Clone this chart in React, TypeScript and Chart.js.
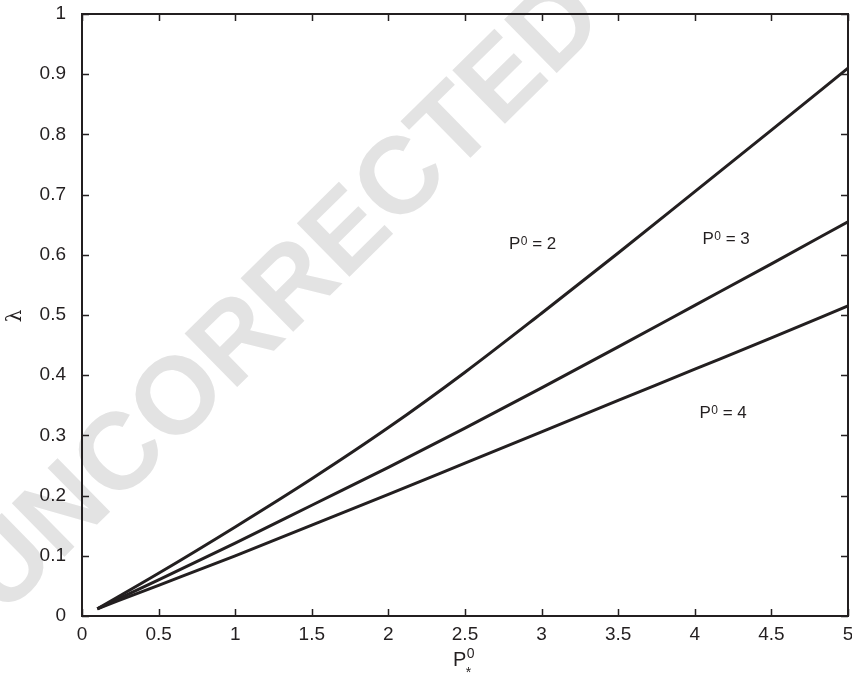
import React, { useEffect, useRef } from "react";
import { Chart, registerables } from "chart.js";

Chart.register(...registerables);

const xValues = [0.1, 0.5, 1, 1.5, 2, 2.5, 3, 3.5, 4, 4.5, 5];
const seriesP2 = [0.012, 0.071, 0.148, 0.228, 0.313, 0.405, 0.503, 0.603, 0.705, 0.807, 0.91];
const seriesP3 = [0.012, 0.06, 0.121, 0.184, 0.247, 0.312, 0.379, 0.447, 0.516, 0.585, 0.655];
const seriesP4 = [0.012, 0.051, 0.1, 0.151, 0.202, 0.254, 0.306, 0.358, 0.41, 0.462, 0.515];

const annotationLabels = ["2", "3", "4"];
const annotationX = [2.787, 4.05, 4.03];
const annotationY = [0.61, 0.618, 0.329];

const watermarkText = "UNCORRECTED";

const INK = "#231f20";
const FONT = "'Liberation Sans', Arial, Helvetica, sans-serif";

const fmt = (v: any) => String(Number(Number(v).toFixed(2)));

const framePlugin = {
  id: "frameAndTicks",
  beforeDraw(chart: any) {
    const ctx = chart.ctx;
    ctx.save();
    ctx.translate(278, 292);
    ctx.rotate((-44.5 * Math.PI) / 180);
    ctx.font = `bold 109px ${FONT}`;
    ctx.fillStyle = "#e3e3e3";
    ctx.textAlign = "center";
    ctx.textBaseline = "alphabetic";
    ctx.fillText(watermarkText, 0, 39);
    ctx.restore();
  },
  afterDatasetsDraw(chart: any) {
    const ctx = chart.ctx;
    const { left, right, top, bottom } = chart.chartArea;
    const xs = chart.scales.x;
    const ys = chart.scales.y;
    ctx.save();
    ctx.strokeStyle = INK;
    ctx.lineWidth = 1.5;
    const tl = 7;
    ctx.beginPath();
    xs.ticks.forEach((t: any) => {
      const px = Math.round(xs.getPixelForValue(t.value)) + 0.5;
      ctx.moveTo(px, bottom);
      ctx.lineTo(px, bottom - tl);
      ctx.moveTo(px, top);
      ctx.lineTo(px, top + tl);
    });
    ys.ticks.forEach((t: any) => {
      const py = Math.round(ys.getPixelForValue(t.value)) + 0.5;
      ctx.moveTo(left, py);
      ctx.lineTo(left + tl, py);
      ctx.moveTo(right, py);
      ctx.lineTo(right - tl, py);
    });
    ctx.stroke();
    ctx.lineWidth = 2;
    ctx.strokeRect(left, top, right - left, bottom - top);

    ctx.fillStyle = INK;
    ctx.textBaseline = "alphabetic";
    ctx.textAlign = "left";
    annotationLabels.forEach((lab, i) => {
      let px = xs.getPixelForValue(annotationX[i]);
      const py = ys.getPixelForValue(annotationY[i]);
      ctx.font = `17px ${FONT}`;
      ctx.fillText("P", px, py);
      px += ctx.measureText("P").width + 0.5;
      ctx.font = `12px ${FONT}`;
      ctx.fillText("0", px, py - 4);
      px += ctx.measureText("0").width;
      ctx.font = `17px ${FONT}`;
      ctx.fillText(" = " + lab, px, py);
    });

    let tx = 453;
    const ty = 666;
    ctx.font = `20px ${FONT}`;
    ctx.fillText("P", tx, ty);
    tx += ctx.measureText("P").width + 0.5;
    ctx.font = `14px ${FONT}`;
    ctx.fillText("0", tx, ty - 8);
    ctx.fillText("*", tx - 1, ty + 11);

    ctx.save();
    ctx.translate(16, 316);
    ctx.rotate(-Math.PI / 2);
    ctx.font = `20px 'DejaVu Serif', serif`;
    ctx.textAlign = "center";
    ctx.textBaseline = "middle";
    ctx.fillText("λ", 0, 0);
    ctx.restore();
    ctx.restore();
  },
};

export default function App() {
  const ref = useRef<HTMLCanvasElement | null>(null);
  useEffect(() => {
    if (!ref.current) return;
    const mk = (vals: number[]) => xValues.map((x, i) => ({ x, y: vals[i] }));
    const ds = (label: string, vals: number[]) => ({
      label,
      data: mk(vals),
      borderColor: INK,
      borderWidth: 3,
      pointRadius: 0,
      fill: false,
      cubicInterpolationMode: "monotone" as const,
    });
    const chart = new Chart(ref.current, {
      type: "line",
      data: {
        datasets: [ds("P0=2", seriesP2), ds("P0=3", seriesP3), ds("P0=4", seriesP4)],
      },
      options: {
        responsive: false,
        animation: false,
        layout: { padding: { top: 14, right: 4, left: 0, bottom: 0 } },
        plugins: { legend: { display: false }, tooltip: { enabled: false } },
        scales: {
          x: {
            type: "linear",
            min: 0,
            max: 5,
            grid: { display: false, drawTicks: false },
            border: { display: false },
            ticks: {
              stepSize: 0.5,
              color: INK,
              font: { size: 19, family: FONT },
              padding: 7,
              maxRotation: 0,
              callback: (v: any) => fmt(v),
            },
            afterFit: (s: any) => {
              s.height = 61;
              s.paddingLeft = 0;
              s.paddingRight = 0;
            },
          },
          y: {
            type: "linear",
            min: 0,
            max: 1,
            grid: { display: false, drawTicks: false },
            border: { display: false },
            ticks: {
              stepSize: 0.1,
              color: INK,
              font: { size: 19, family: FONT },
              padding: 16,
              callback: (v: any) => fmt(v),
            },
            afterFit: (s: any) => {
              s.width = 82;
              s.paddingTop = 0;
              s.paddingBottom = 0;
            },
          },
        },
      },
      plugins: [framePlugin],
    });
    return () => chart.destroy();
  }, []);
  return (
    <div style={{ position: "absolute", left: 0, top: 0, width: 852, height: 677, background: "#fff" }}>
      <canvas ref={ref} width={852} height={677} style={{ display: "block" }} />
    </div>
  );
}
